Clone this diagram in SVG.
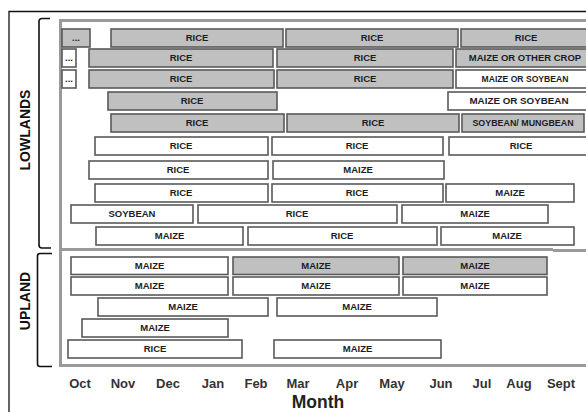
<svg xmlns="http://www.w3.org/2000/svg" width="586" height="412" viewBox="0 0 586 412">
<style>
.bx{stroke:#595959;stroke-width:1.6}
.g{fill:#c0c0c0}
.w{fill:#ffffff}
.t{font-family:"Liberation Sans",Arial,sans-serif;font-weight:bold;font-size:9.5px;fill:#1c1c28;text-anchor:middle}
.m{font-family:"Liberation Sans",Arial,sans-serif;font-weight:bold;font-size:13px;fill:#333;text-anchor:middle}
.lab{font-family:"Liberation Sans",Arial,sans-serif;font-weight:bold;font-size:14px;fill:#111;text-anchor:middle}
.fr{fill:none;stroke:#9a9a9a;stroke-width:3}
.br{fill:none;stroke:#111;stroke-width:1.6}
</style>
<rect width="586" height="412" fill="#fff"/>
<g id="outer-frame"><path d="M9,412 V11.5 H586" fill="none" stroke="#111" stroke-width="1.3"/></g>
<g id="chart-frame">
<path class="fr" d="M586,20.5 H60.5 V365.5 H586"/>
<path class="fr" d="M62,249.5 H553 M553,250.5 H586" stroke-width="2.5"/>
</g>
<g id="brackets">
<path class="br" d="M50,18.5 H42 Q39,18.5 39,21.5 V245 Q39,248 42,248 H51"/>
<path class="br" d="M52,253.5 H40 Q37.5,253.5 37.5,256 V364 Q37.5,366.5 40,366.5 H52"/>
</g>
<g id="label-lowlands"><text class="lab" transform="translate(30,130) rotate(-90)">LOWLANDS</text></g>
<g id="label-upland"><text class="lab" transform="translate(30,301) rotate(-90)">UPLAND</text></g>

<g id="r1">
<g id="r1a"><rect class="bx g" x="62" y="29" width="28" height="18"/><text class="t" x="76" y="41">...</text></g>
<g id="r1b"><rect class="bx g" x="111" y="29" width="172" height="18"/><text class="t" x="197" y="41.4">RICE</text></g>
<g id="r1c"><rect class="bx g" x="286" y="29" width="172" height="18"/><text class="t" x="372" y="41.4">RICE</text></g>
<g id="r1d"><rect class="bx g" x="461" y="29" width="131" height="18"/><text class="t" x="526" y="41.4">RICE</text></g>
</g>
<g id="r2">
<g id="r2a"><rect class="bx w" x="62" y="49" width="14" height="18"/><text class="t" x="69" y="61">...</text></g>
<g id="r2b"><rect class="bx g" x="89" y="49" width="184" height="18"/><text class="t" x="181" y="61.4">RICE</text></g>
<g id="r2c"><rect class="bx g" x="277" y="49" width="176" height="18"/><text class="t" x="365" y="61.4">RICE</text></g>
<g id="r2d"><rect class="bx g" x="456" y="49" width="136" height="18"/><text class="t" x="525" y="61.4">MAIZE OR OTHER CROP</text></g>
</g>
<g id="r3">
<g id="r3a"><rect class="bx w" x="62" y="70" width="14" height="18"/><text class="t" x="69" y="82">...</text></g>
<g id="r3b"><rect class="bx g" x="89" y="70" width="185" height="18"/><text class="t" x="181" y="82.4">RICE</text></g>
<g id="r3c"><rect class="bx g" x="277" y="70" width="176" height="18"/><text class="t" x="365" y="82.4">RICE</text></g>
<g id="r3d"><rect class="bx w" x="456" y="70" width="136" height="18"/><text class="t" x="525" y="82.2" style="font-size:8.6px">MAIZE OR SOYBEAN</text></g>
</g>
<g id="r4">
<g id="r4a"><rect class="bx g" x="108" y="92" width="169" height="18"/><text class="t" x="192" y="104.4">RICE</text></g>
<g id="r4b"><rect class="bx w" x="448" y="92" width="142" height="18"/><text class="t" x="519" y="104.4" style="font-size:9.8px">MAIZE OR SOYBEAN</text></g>
</g>
<g id="r5">
<g id="r5a"><rect class="bx g" x="111" y="114" width="173" height="18"/><text class="t" x="197" y="126.4">RICE</text></g>
<g id="r5b"><rect class="bx g" x="287" y="114" width="172" height="18"/><text class="t" x="373" y="126.4">RICE</text></g>
<g id="r5c"><rect class="bx g" x="462" y="114" width="122" height="18"/><text class="t" x="523" y="126.3" style="font-size:8.9px">SOYBEAN/ MUNGBEAN</text></g>
</g>
<g id="r6">
<g id="r6a"><rect class="bx w" x="95" y="137" width="173" height="18"/><text class="t" x="181" y="149.4">RICE</text></g>
<g id="r6b"><rect class="bx w" x="272" y="137" width="171" height="18"/><text class="t" x="357" y="149.4">RICE</text></g>
<g id="r6c"><rect class="bx w" x="449" y="137" width="144" height="18"/><text class="t" x="521" y="149.4">RICE</text></g>
</g>
<g id="r7">
<g id="r7a"><rect class="bx w" x="89" y="161" width="179" height="18"/><text class="t" x="178" y="173.4">RICE</text></g>
<g id="r7b"><rect class="bx w" x="273" y="161" width="171" height="18"/><text class="t" x="358" y="173.4">MAIZE</text></g>
</g>
<g id="r8">
<g id="r8a"><rect class="bx w" x="95" y="184" width="173" height="18"/><text class="t" x="181" y="196.4">RICE</text></g>
<g id="r8b"><rect class="bx w" x="272" y="184" width="171" height="18"/><text class="t" x="357" y="196.4">RICE</text></g>
<g id="r8c"><rect class="bx w" x="446" y="184" width="128" height="18"/><text class="t" x="510" y="196.4">MAIZE</text></g>
</g>
<g id="r9">
<g id="r9a"><rect class="bx w" x="71" y="205" width="122" height="18"/><text class="t" x="132" y="217.4">SOYBEAN</text></g>
<g id="r9b"><rect class="bx w" x="198" y="205" width="199" height="18"/><text class="t" x="297" y="217.4">RICE</text></g>
<g id="r9c"><rect class="bx w" x="402" y="205" width="146" height="18"/><text class="t" x="475" y="217.4">MAIZE</text></g>
</g>
<g id="r10">
<g id="r10a"><rect class="bx w" x="96" y="227" width="147" height="18"/><text class="t" x="169.5" y="239.4">MAIZE</text></g>
<g id="r10b"><rect class="bx w" x="248" y="227" width="189" height="18"/><text class="t" x="342" y="239.4">RICE</text></g>
<g id="r10c"><rect class="bx w" x="441" y="227" width="133" height="18"/><text class="t" x="507" y="239.4">MAIZE</text></g>
</g>
<g id="r11">
<g id="r11a"><rect class="bx w" x="71" y="257" width="157" height="17.5"/><text class="t" x="149.5" y="269.2">MAIZE</text></g>
<g id="r11b"><rect class="bx g" x="233" y="257" width="166" height="17.5"/><text class="t" x="316" y="269.2">MAIZE</text></g>
<g id="r11c"><rect class="bx g" x="403" y="257" width="144" height="17.5"/><text class="t" x="475" y="269.2">MAIZE</text></g>
</g>
<g id="r12">
<g id="r12a"><rect class="bx w" x="71" y="277" width="157" height="18"/><text class="t" x="149.5" y="289.4">MAIZE</text></g>
<g id="r12b"><rect class="bx w" x="233" y="277" width="166" height="18"/><text class="t" x="316" y="289.4">MAIZE</text></g>
<g id="r12c"><rect class="bx w" x="403" y="277" width="144" height="18"/><text class="t" x="475" y="289.4">MAIZE</text></g>
</g>
<g id="r13">
<g id="r13a"><rect class="bx w" x="98" y="298" width="170" height="18"/><text class="t" x="183" y="310.4">MAIZE</text></g>
<g id="r13b"><rect class="bx w" x="277" y="298" width="160" height="18"/><text class="t" x="357" y="310.4">MAIZE</text></g>
</g>
<g id="r14">
<g id="r14a"><rect class="bx w" x="82" y="319" width="146" height="18"/><text class="t" x="155" y="331.4">MAIZE</text></g>
</g>
<g id="r15">
<g id="r15a"><rect class="bx w" x="68" y="340" width="174" height="18"/><text class="t" x="155" y="352.4">RICE</text></g>
<g id="r15b"><rect class="bx w" x="274" y="340" width="167" height="18"/><text class="t" x="357.5" y="352.4">MAIZE</text></g>
</g>

<g id="axis">
<text class="m" x="80" y="387.5">Oct</text>
<text class="m" x="123" y="387.5">Nov</text>
<text class="m" x="168" y="387.5">Dec</text>
<text class="m" x="213" y="387.5">Jan</text>
<text class="m" x="256" y="387.5">Feb</text>
<text class="m" x="298" y="387.5">Mar</text>
<text class="m" x="347" y="387.5">Apr</text>
<text class="m" x="392" y="387.5">May</text>
<text class="m" x="441" y="387.5">Jun</text>
<text class="m" x="482" y="387.5">Jul</text>
<text class="m" x="519" y="387.5">Aug</text>
<text class="m" x="561" y="387.5">Sept</text>
<text class="m" x="318" y="408" style="font-size:17.5px;fill:#222">Month</text>
</g>
</svg>
